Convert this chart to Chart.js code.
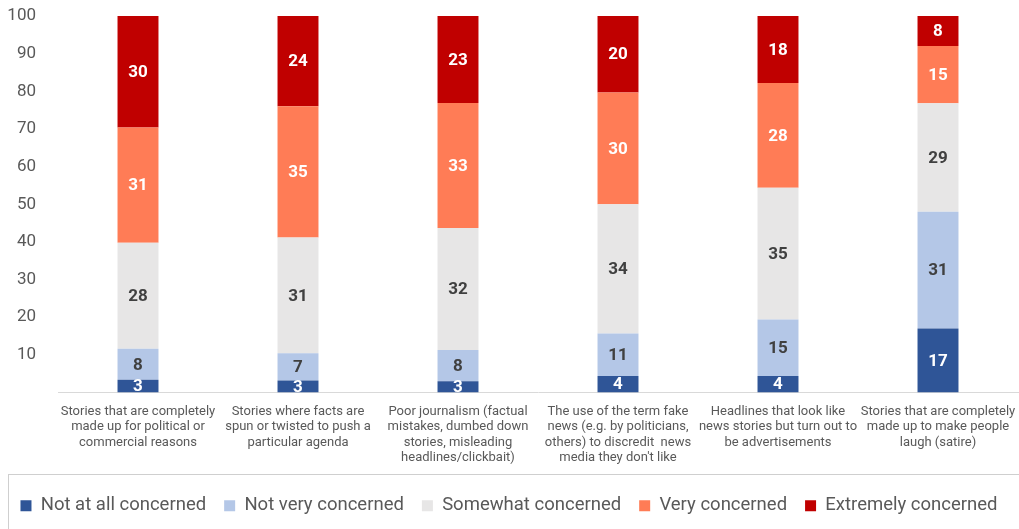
<!DOCTYPE html>
<html>
<head>
<meta charset="utf-8">
<script src="https://cdn.jsdelivr.net/npm/chart.js@4.4.1/dist/chart.umd.min.js"></script>
<style>
  html, body { margin: 0; padding: 0; background: #fff; }
  #wrap { width: 1019px; height: 529px; position: relative; }
</style>
</head>
<body>
<div id="wrap"><canvas id="concernChart"></canvas></div>
<script>
// categories (x axis), one label split over lines
var categories = [
  ["Stories that are completely", "made up for political or", "commercial reasons"],
  ["Stories where facts are", "spun or twisted to push a", "particular agenda"],
  ["Poor journalism (factual", "mistakes, dumbed down", "stories, misleading", "headlines/clickbait)"],
  ["The use of the term fake", "news (e.g. by politicians,", "others) to discredit  news", "media they don't like"],
  ["Headlines that look like", "news stories but turn out to", "be advertisements"],
  ["Stories that are completely", "made up to make people", "laugh (satire)"]
];

// series values (percent)
var notAtAll   = [3.4, 3.2, 3.0, 4.4, 4.4, 17.0];
var notVery    = [8.2, 7.2, 8.3, 11.3, 15.0, 31.0];
var somewhat   = [28.2, 30.8, 32.4, 34.3, 35.0, 28.8];
var very       = [30.6, 34.8, 33.2, 29.7, 27.8, 15.2];
var extremely  = [29.6, 24.0, 23.1, 20.3, 17.8, 8.0];

var seriesNames = ["Not at all concerned", "Not very concerned", "Somewhat concerned", "Very concerned", "Extremely concerned"];
var yTicks = [10, 20, 30, 40, 50, 60, 70, 80, 90, 100];

document.addEventListener("DOMContentLoaded", function () {
  var FONT = "Roboto, 'Noto Sans', sans-serif";

  // writes the rounded value in the middle of every segment
  var segmentLabels = {
    id: "segmentLabels",
    afterDatasetsDraw: function (chart) {
      var ctx = chart.ctx;
      ctx.save();
      ctx.font = "bold 17px " + FONT;
      ctx.textAlign = "center";
      ctx.textBaseline = "middle";
      chart.data.datasets.forEach(function (ds, i) {
        var meta = chart.getDatasetMeta(i);
        meta.data.forEach(function (bar, j) {
          var v = Math.round(ds.data[j]);
          ctx.fillStyle = ds.labelColor;
          ctx.fillText(String(v), bar.x, (bar.y + bar.base) / 2 + 1);
        });
      });
      ctx.restore();
    }
  };

  // grey frame around the legend
  var legendFrame = {
    id: "legendFrame",
    afterDraw: function (chart) {
      var lg = chart.legend;
      var ctx = chart.ctx;
      ctx.save();
      ctx.strokeStyle = "#cfcfcf";
      ctx.lineWidth = 1;
      ctx.strokeRect(8.5, Math.round(lg.top) - 5 + 0.5, chart.width, chart.height);
      ctx.restore();
    }
  };

  var ctx = document.getElementById("concernChart").getContext("2d");
  var concernChart = new Chart(ctx, {
    type: "bar",
    data: {
      labels: categories,
      datasets: [
        { label: seriesNames[0], data: notAtAll, backgroundColor: "#2F5597", labelColor: "#ffffff" },
        { label: seriesNames[1], data: notVery, backgroundColor: "#B4C7E7", labelColor: "#404040" },
        { label: seriesNames[2], data: somewhat, backgroundColor: "#E7E6E6", labelColor: "#404040" },
        { label: seriesNames[3], data: very, backgroundColor: "#FF7C56", labelColor: "#ffffff" },
        { label: seriesNames[4], data: extremely, backgroundColor: "#C00000", labelColor: "#ffffff" }
      ]
    },
    options: {
      responsive: true,
      maintainAspectRatio: false,
      animation: false,
      events: [],
      layout: { padding: { top: 16, right: 1, left: 0, bottom: 4 } },
      datasets: {
        bar: { categoryPercentage: 1, barPercentage: 0.256 }
      },
      scales: {
        x: {
          stacked: true,
          grid: { display: false },
          border: { display: true, color: "#d9d9d9", width: 1 },
          afterFit: function (scale) { scale.height = 86; },
          ticks: {
            color: "#595959",
            font: { family: FONT, size: 13, lineHeight: 1.2 },
            maxRotation: 0,
            autoSkip: false,
            padding: 3
          }
        },
        y: {
          stacked: true,
          min: 0,
          max: 100,
          grid: { display: false },
          border: { display: false },
          afterBuildTicks: function (scale) {
            scale.ticks = yTicks.map(function (v) { return { value: v }; });
          },
          afterFit: function (scale) {
            scale.width = 58;
            scale.paddingTop = 0;
            scale.paddingBottom = 0;
          },
          ticks: {
            color: "#595959",
            font: { family: FONT, size: 17 },
            padding: 14
          }
        }
      },
      plugins: {
        tooltip: { enabled: false },
        legend: {
          position: "bottom",
          labels: {
            color: "#595959",
            font: { family: FONT, size: 18.5 },
            boxWidth: 11,
            boxHeight: 11,
            padding: 18
          }
        }
      }
    },
    plugins: [segmentLabels, legendFrame]
  });
});
</script>
</body>
</html>
